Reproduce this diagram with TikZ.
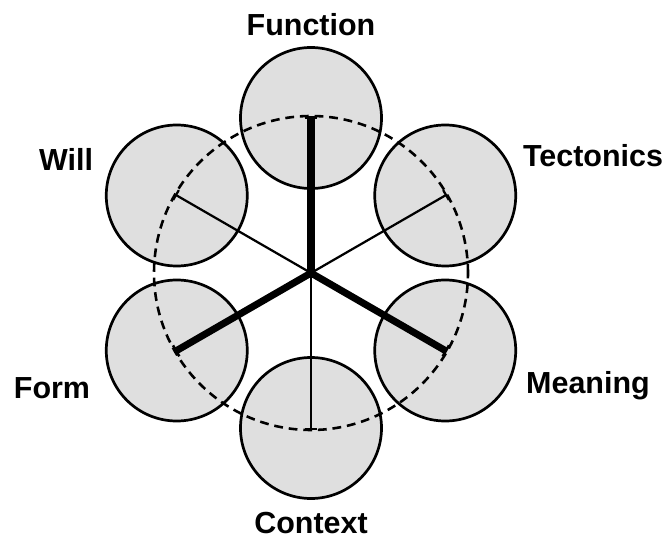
\documentclass[tikz,border=0pt]{standalone}
\usepackage{fontspec}
\setmainfont{Liberation Sans}
\usetikzlibrary{arrows.meta}

\begin{document}
\begin{tikzpicture}[
  font=\bfseries\fontsize{26}{30}\selectfont,
  aspect/.style={
    circle,
    draw=black,
    line width=2.3pt,
    fill=gray!25,
    minimum size=4.23cm,
    inner sep=0pt
  },
  aspectlabel/.style={
    anchor=base,
    inner sep=0pt
  },
  mainspoke/.style={
    line width=6pt,
    -{Bar[width=0.38cm,line width=2.2pt]}
  },
  sidespoke/.style={
    line width=1.9pt,
    -{Bar[width=0.34cm,line width=1.9pt]}
  }
]

  \useasboundingbox (-9.33,-7.98) rectangle (10.77,8.19);

  % Hub and the two radii: circle centres and spoke ends.
  \coordinate (O) at (0,0);
  \def\D{4.65}
  \def\R{4.71}

  % Six grey circles round the hub.
  \foreach \name/\ang in {function/90, tectonics/30, meaning/-30,
                          context/-90, form/210, will/150}{
    \node[aspect] (\name) at (\ang:\D) {};
    \coordinate (\name-end) at (\ang:\R);
  }

  % Dashed ring through the spoke ends.
  \draw[line width=2.2pt, dash pattern=on 7.5pt off 5pt] (O) circle (\R);

  % Spokes: three heavy, three light.
  \draw[sidespoke] (O) -- (will-end);
  \draw[sidespoke] (O) -- (tectonics-end);
  \draw[sidespoke] (O) -- (context-end);
  \draw[mainspoke] (O) -- (function-end);
  \draw[mainspoke] (O) -- (meaning-end);
  \draw[mainspoke] (O) -- (form-end);

  % Names.
  \node[aspectlabel] (function-label)  at (0,7.11)     {Function};
  \node[aspectlabel] (will-label)      at (-7.35,3.06) {Will};
  \node[aspectlabel] (tectonics-label) at (8.46,3.18)  {Tectonics};
  \node[aspectlabel] (form-label)      at (-7.77,-3.75) {Form};
  \node[aspectlabel] (meaning-label)   at (8.31,-3.60) {Meaning};
  \node[aspectlabel] (context-label)   at (0,-7.82)    {Context};

\end{tikzpicture}
\end{document}
